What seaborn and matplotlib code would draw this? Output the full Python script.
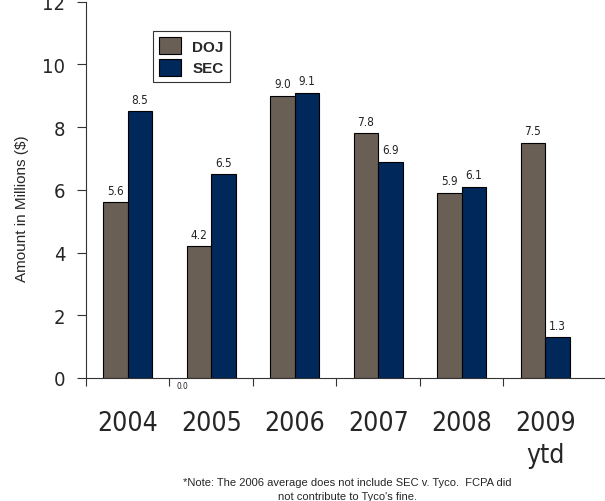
import matplotlib
matplotlib.use("Agg")
import matplotlib.pyplot as plt
import seaborn as sns
import pandas as pd
from matplotlib.font_manager import FontProperties

# Average FCPA fines per enforcement action, in millions of dollars
years = ["2004", "2005", "2006", "2007", "2008", "2009\nytd"]
doj = [5.6, 4.2, 9.0, 7.8, 5.9, 7.5]
sec = [8.5, 6.5, 9.1, 6.9, 6.1, 1.3]
agencies = ["DOJ", "SEC"]
colors = {"DOJ": "#6A5F55", "SEC": "#00285A"}
y_ticks = [0, 2, 4, 6, 8, 10, 12]
note = ("*Note: The 2006 average does not include SEC v. Tyco.  FCPA did\n"
        "not contribute to Tyco's fine.")

df = pd.DataFrame({
    "year": years * 2,
    "agency": ["DOJ"] * len(years) + ["SEC"] * len(years),
    "amount": doj + sec,
})

sns.set_theme(style="ticks")
plt.rcParams["font.family"] = ["Liberation Sans", "DejaVu Sans"]


def nf(size):
    """Condensed face used for the numeric labels."""
    return FontProperties(family="DejaVu Sans", stretch="condensed", size=size)


fig = plt.figure(figsize=(6.05, 5.02), dpi=100)
ax = fig.add_axes([86 / 605, 123 / 502, 519 / 605, 376.3 / 502])

sns.barplot(data=df, x="year", y="amount", hue="agency", hue_order=agencies,
            palette=colors, width=0.59, saturation=1, edgecolor="black",
            linewidth=0.8, ax=ax, legend=True)

for cont in ax.containers:
    ax.bar_label(cont, fmt="%.1f", padding=4, fontproperties=nf(8.5),
                 color="#222222")

ax.text(0.65, -0.25, "0.0", fontproperties=nf(6), ha="center",
        va="center", color="#222222")

ax.set_ylim(0, 12)
ax.set_xlim(-0.5, 5.716)
ax.set_yticks(y_ticks)
ax.set_yticklabels([str(t) for t in y_ticks], fontproperties=nf(14.5))
ax.tick_params(axis="y", length=6.5, width=0.8, color="#333333", pad=8.5,
               direction="out")

ax.set_xticks(range(len(years)))
ax.set_xticklabels(years, fontproperties=nf(19), linespacing=1.3)
ax.tick_params(axis="x", which="major", length=0, pad=23)
ax.set_xticks([i - 0.5 for i in range(len(years))], minor=True)
ax.tick_params(axis="x", which="minor", length=5.5, width=0.8,
               color="#333333", direction="out")

ax.set_xlabel("")
ax.set_ylabel("")
for side in ["top", "right"]:
    ax.spines[side].set_visible(False)
for side in ["left", "bottom"]:
    ax.spines[side].set_color("#333333")
    ax.spines[side].set_linewidth(0.8)

fig.text(22 / 605, 1 - 209 / 502, "Amount in Millions ($)", rotation=90,
         ha="center", va="center", fontsize=11)

handles, labels = ax.get_legend_handles_labels()
ax.legend(handles, labels, loc="upper left",
          bbox_to_anchor=(153 / 605, 1 - 32 / 502),
          bbox_transform=fig.transFigure, frameon=True, fancybox=False,
          edgecolor="#333333", framealpha=1, prop={"weight": "bold", "size": 11},
          handlelength=1.44, handleheight=1.31, labelspacing=0.33,
          handletextpad=0.72, borderpad=0.4, borderaxespad=0)
ax.get_legend().get_frame().set_linewidth(0.8)

fig.text(347 / 605, 1 - 490 / 502, note, ha="center", va="center",
         fontsize=8, linespacing=1.5)

fig.savefig("out.png", dpi=100)
